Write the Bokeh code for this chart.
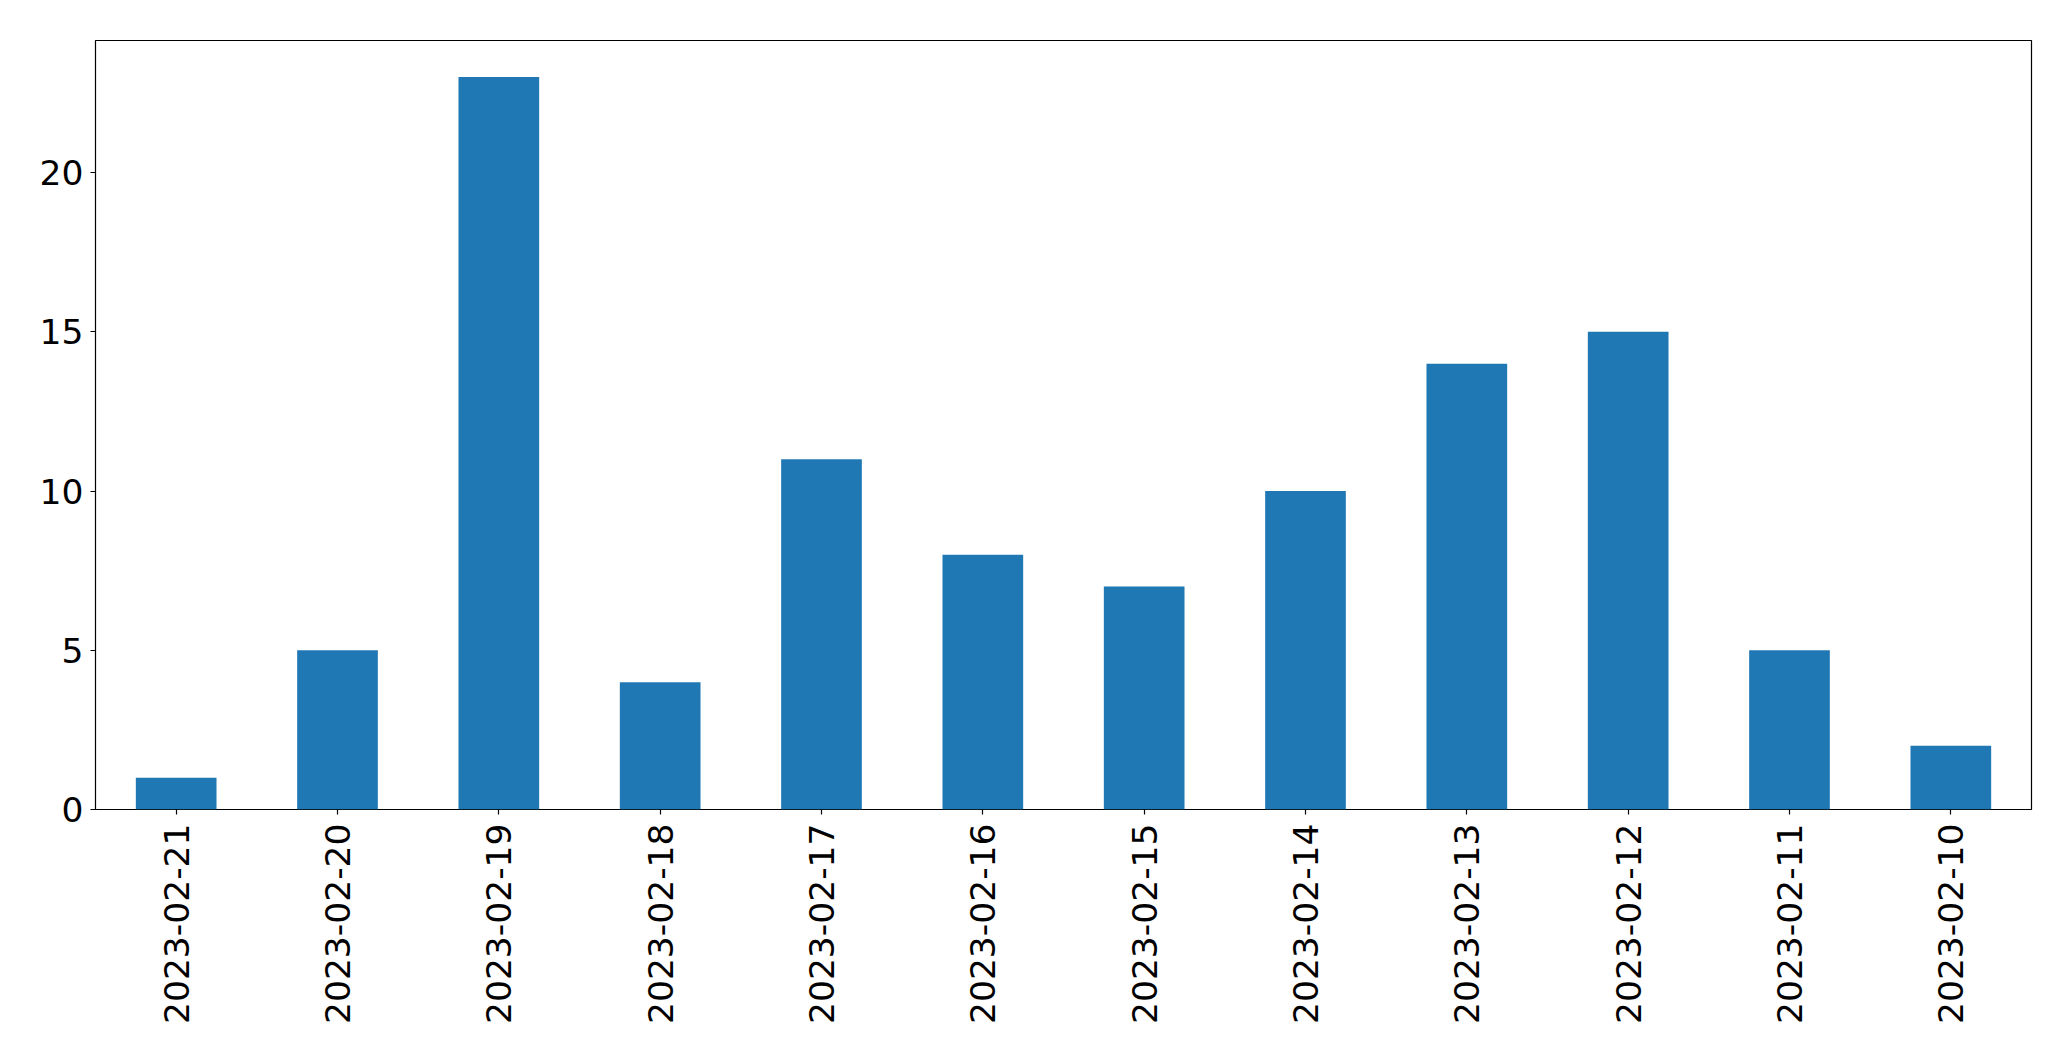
import math
from bokeh.plotting import figure
from bokeh.models import FactorRange, Range1d, FixedTicker, ColumnDataSource
from bokeh.embed import file_html
from bokeh.resources import INLINE

dates = ["2023-02-21", "2023-02-20", "2023-02-19", "2023-02-18", "2023-02-17", "2023-02-16",
         "2023-02-15", "2023-02-14", "2023-02-13", "2023-02-12", "2023-02-11", "2023-02-10"]
counts = [1, 5, 23, 4, 11, 8, 7, 10, 14, 15, 5, 2]
y_ticks = [0, 5, 10, 15, 20]

src = ColumnDataSource(dict(x=dates, top=counts))

p = figure(width=2063, height=1053, output_backend="svg", toolbar_location=None,
           x_range=FactorRange(factors=dates, range_padding=0),
           y_range=Range1d(0, max(counts) * 1.05),
           min_border_left=95, min_border_right=32, min_border_top=40, min_border_bottom=244)

p.vbar(x="x", top="top", width=0.5, source=src, fill_color="#1f77b4", line_color=None)

p.xgrid.visible = False
p.ygrid.visible = False
p.outline_line_color = "black"
p.outline_line_width = 1.2
p.outline_line_alpha = 1

for ax in (p.xaxis[0], p.yaxis[0]):
    ax.axis_line_color = None
    ax.major_tick_line_color = "black"
    ax.major_tick_line_width = 1.2
    ax.major_tick_in = 0
    ax.major_tick_out = 5
    ax.minor_tick_line_color = None
    ax.major_label_text_font = "DejaVu Sans"
    ax.major_label_text_font_size = "34.5px"
    ax.major_label_text_color = "black"

p.yaxis.ticker = FixedTicker(ticks=y_ticks)
p.yaxis.major_label_standoff = 7
p.xaxis.major_label_orientation = math.pi / 2
p.xaxis.major_label_standoff = 9

open("out.html", "w").write(file_html(p, INLINE))
